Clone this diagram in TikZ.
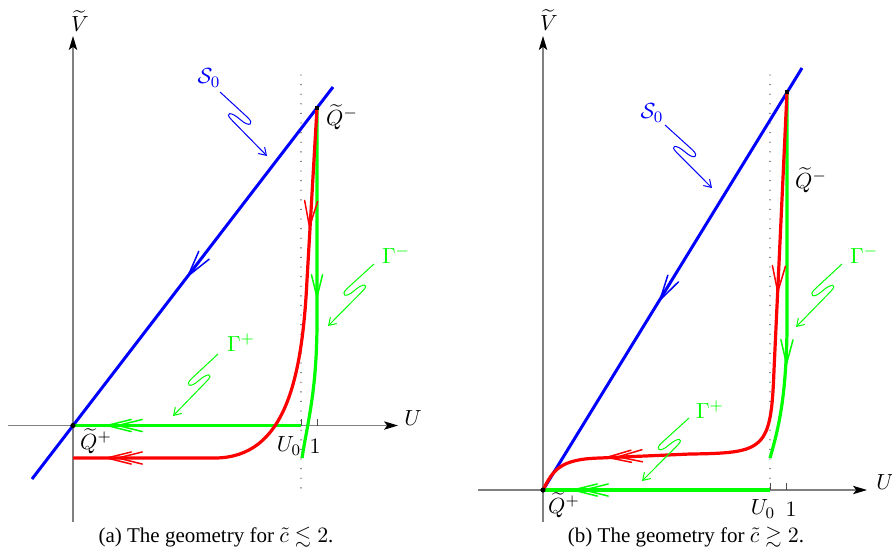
\documentclass[tikz,border=0pt]{standalone}
\usepackage{amssymb}
\usepackage{fontspec}
\setmainfont{Liberation Serif}
\usetikzlibrary{arrows.meta,calc}
\tikzset{
  axisline/.style={draw=black!50, line width=0.6pt, -{Stealth[length=7pt,width=4.2pt,inset=1.6pt,color=black]}},
  bluecurve/.style={draw=blue, line width=1.5pt},
  redcurve/.style={draw=red, line width=1.6pt},
  greencurve/.style={draw=green, line width=1.6pt},
  headstyle/.style={line width=0.75pt, line cap=round, line join=miter},
  dotline/.style={draw=black!80, line width=0.7pt, line cap=round, dash pattern=on 0pt off 4.8pt},
  tickline/.style={draw=black!70, line width=0.45pt},
  lbl/.style={inner sep=0pt, font=\fontsize{11}{13}\selectfont},
  captext/.style={inner sep=0pt, font=\fontsize{10.5}{12}\selectfont},
}
% open V arrow head: style, tip, direction (pixel angle), length
\newcommand\vhead[4]{%
  \draw[headstyle,#1] ($(#2)+({#3+180-14}:#4)$) -- (#2) -- ($(#2)+({#3+180+14}:#4)$);}
% squiggle pointer: colour, start, end, side (90 or -90)
\newcommand\squig[4]{%
  \begin{scope}[x={($(#3)-(#2)$)}, y={($(#2)!1!#4:(#3)-(#2)$)}, shift={(#2)}]
    \draw[#1, line width=0.5pt, -{Straight Barb[length=3.5pt,width=4.5pt]}]
      (0,0) -- (0.46,0.09) .. controls (0.59,0.115) and (0.58,0.03) .. (0.43,0)
      .. controls (0.28,-0.03) and (0.23,-0.11) .. (0.37,-0.09) -- (1,0);
  \end{scope}}
\begin{document}
\begin{tikzpicture}[x=0.5pt, y=-0.5pt]
\useasboundingbox (0,0) rectangle (892,558);

% ================= panel (a) =================
\coordinate (Oa) at (73,425.5);
\coordinate (Qma) at (317,108);
\coordinate (Vbota) at (73,522);
\coordinate (Vtopa) at (73,36);
\coordinate (Ulefta) at (8,425.5);
\coordinate (Urighta) at (398,425.5);
\draw[axisline] (Vbota) -- (Vtopa);
\draw[axisline] (Ulefta) -- (Urighta);
\coordinate (Dta) at (301,75);
\coordinate (Dba) at (301,490);
\draw[dotline] (Dta) -- (Dba);
\coordinate (T0a) at (301,425.5);
\coordinate (T1a) at (317,425.5);
\draw[tickline] (T0a) -- ++(0,-7);
\draw[tickline] (T1a) -- ++(0,-7);

\coordinate (Bsa) at (32,479);
\coordinate (Bea) at (333,87);
\draw[bluecurve] (Bsa) -- (Bea);
\draw[greencurve] (T0a) -- (Oa);
\draw[greencurve] (Qma) -- (317,320) .. controls (317,390) and (308,420) .. (302,458);
\draw[redcurve] (Qma) -- (307,280) .. controls (302,380) and (285,457.5) .. (215,458) -- (73,458);

\vhead{blue}{188,276}{127.5}{27}
\vhead{red}{309.5,227}{93.6}{27}
\vhead{green}{317,297}{90}{23}
\vhead{red}{107,458}{180}{25}
\vhead{red}{118,458}{180}{25}
\vhead{green}{107,425.5}{180}{25}
\vhead{green}{118,425.5}{180}{25}

\fill[black] (Oa) circle (2.6);
\fill[black] ($(Qma)+(-2.2,-2.2)$) rectangle ($(Qma)+(2.2,2.2)$);

\coordinate (s0a1) at (220,92);   \coordinate (s0a2) at (267,156);
\coordinate (gma1) at (374,264);  \coordinate (gma2) at (328,326);
\coordinate (gpa1) at (218,354);  \coordinate (gpa2) at (173,416);
\squig{blue}{s0a1}{s0a2}{90}
\squig{green}{gma1}{gma2}{-90}
\squig{green}{gpa1}{gpa2}{-90}

\node[lbl] (Va) at (80,21) {$\widetilde{V}$};
\node[lbl] (Ua) at (413,418) {$U$};
\node[lbl] (QmLa) at (342,117) {$\widetilde{Q}^{-}$};
\node[lbl] (QpLa) at (96,441) {$\widetilde{Q}^{+}$};
\node[lbl] (U0a) at (289,446) {$U_0$};
\node[lbl] (onea) at (315,446) {$1$};
\node[lbl, text=blue] (S0a) at (209,78) {$\mathcal{S}_0$};
\node[lbl, text=green] (Gma) at (396,255) {$\Gamma^{-}$};
\node[lbl, text=green] (Gpa) at (241,343) {$\Gamma^{+}$};
\node[captext] (capa) at (216,537) {(a) The geometry for $\tilde{c}\lesssim 2$.};

% ================= panel (b) =================
\coordinate (Ob) at (543,490);
\coordinate (Qmb) at (787,92);
\coordinate (Vbotb) at (543,522);
\coordinate (Vtopb) at (543,36);
\coordinate (Uleftb) at (478,490);
\coordinate (Urightb) at (867,490);
\draw[axisline] (Vbotb) -- (Vtopb);
\draw[axisline] (Uleftb) -- (Urightb);
\coordinate (Dtb) at (770,75);
\coordinate (Dbb) at (770,490);
\draw[dotline] (Dtb) -- (Dbb);
\coordinate (T0b) at (770,490);
\coordinate (T1b) at (786,490);
\draw[tickline] (T0b) -- ++(0,-7);
\draw[tickline] (T1b) -- ++(0,-7);

\coordinate (Beb) at (802,68);
\draw[bluecurve] (Ob) -- (Beb);
\draw[greencurve] (T0b) -- (Ob);
\draw[greencurve] (Qmb) -- (787,330) .. controls (786,400) and (778,430) .. (770,458);
\draw[redcurve] (Qmb) -- (774,370) .. controls (771,450) and (765,453) .. (690,454)
   -- (600,458) .. controls (560,459) and (553,470) .. (Ob);

\vhead{blue}{660,300}{121.5}{26}
\vhead{red}{777.7,292}{92.7}{27}
\vhead{green}{786.5,364}{91}{25}
\vhead{red}{607,457.3}{177.5}{25}
\vhead{red}{618,456.8}{177.5}{25}
\vhead{green}{573,490}{180}{25}
\vhead{green}{584,490}{180}{25}

\fill[black] (Ob) circle (2.6);
\fill[black] ($(Qmb)+(-2.2,-2.2)$) rectangle ($(Qmb)+(2.2,2.2)$);

\coordinate (s0b1) at (665,125);  \coordinate (s0b2) at (712,188);
\coordinate (gmb1) at (842,264);  \coordinate (gmb2) at (796,327);
\coordinate (gpb1) at (689,418);  \coordinate (gpb2) at (642,481);
\squig{blue}{s0b1}{s0b2}{90}
\squig{green}{gmb1}{gmb2}{-90}
\squig{green}{gpb1}{gpb2}{-90}

\node[lbl] (Vb) at (549,20) {$\widetilde{V}$};
\node[lbl] (Ub) at (885,482) {$U$};
\node[lbl] (QmLb) at (811,180) {$\widetilde{Q}^{-}$};
\node[lbl] (QpLb) at (564,505) {$\widetilde{Q}^{+}$};
\node[lbl] (U0b) at (763,509) {$U_0$};
\node[lbl] (oneb) at (791,509) {$1$};
\node[lbl, text=blue] (S0b) at (652,113) {$\mathcal{S}_0$};
\node[lbl, text=green] (Gmb) at (864,255) {$\Gamma^{-}$};
\node[lbl, text=green] (Gpb) at (710,410) {$\Gamma^{+}$};
\node[captext] (capb) at (686,537) {(b) The geometry for $\tilde{c}\gtrsim 2$.};
\end{tikzpicture}
\end{document}
